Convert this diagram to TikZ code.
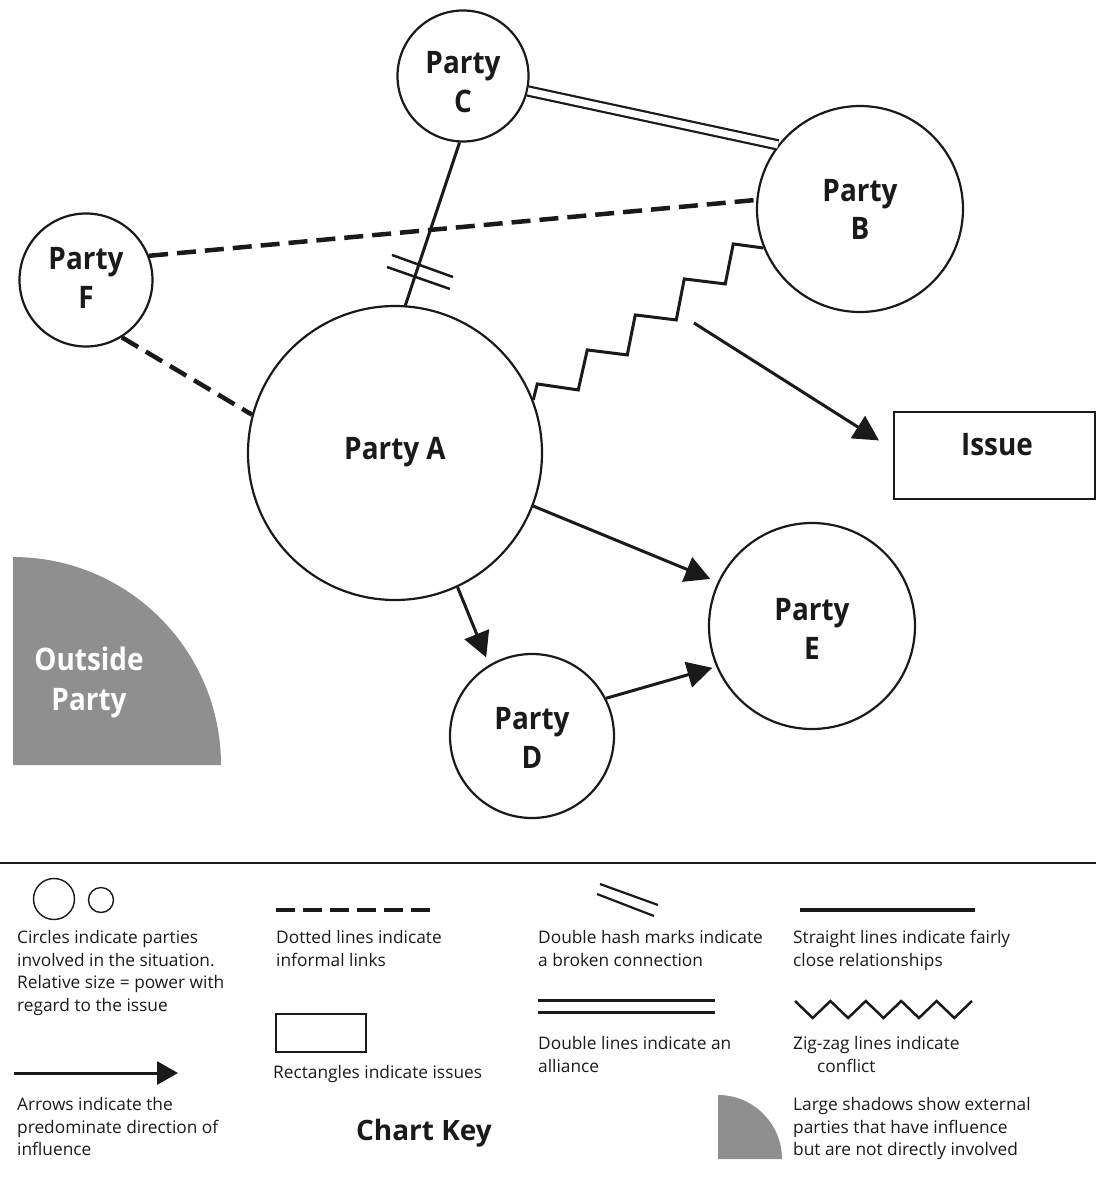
\documentclass[tikz,border=0pt]{standalone}
\usepackage{fontspec}
\setmainfont{Open Sans}
\newfontfamily\labelfont{Open Sans}[FakeStretch=0.9]
\usetikzlibrary{arrows.meta,calc}
\definecolor{shadowgray}{HTML}{8F8F8F}
\definecolor{ink}{HTML}{1A1A1A}
\begin{document}
\begin{tikzpicture}[x=1pt,y=-1pt, line cap=butt,
  party/.style={circle, draw=ink, line width=2.2pt, minimum size=#1, inner sep=0pt},
  partylabel/.style={align=center, inner sep=0pt, text=ink, font=\labelfont\fontsize{31}{38.5}\selectfont\bfseries},
  conn/.style={draw=ink, line width=3pt},
  dashconn/.style={draw=ink, line width=4.5pt, dash pattern=on 19pt off 9pt},
  alliance/.style={draw=ink, line width=2.2pt, double=white, double distance=7pt},
  arr/.style={draw=ink, line width=3pt, -{Triangle[length=25pt,width=26pt]}},
  keytext/.style={anchor=north west, align=left, inner sep=0pt, text=ink,
    font=\fontsize{17.3}{22.5}\selectfont},
]
\useasboundingbox (0,0) rectangle (1096,1181);

% ---------- outside party ----------
\fill[shadowgray] (13,765) -- (13,557) arc[start angle=90, end angle=0, radius=208pt] -- cycle;
\node[align=center, text=white, font=\labelfont\fontsize{31}{40}\selectfont\bfseries] (outside) at (89,682) {Outside\\Party};

% ---------- parties ----------
\node[party=131pt] (C) at (463,76) {};
\node[partylabel] (Ct) at ($(C.center)+(0,6)$) {Party\\C};
\node[party=206pt] (B) at (860,209) {};
\node[partylabel] (Bt) at ($(B.center)+(0,0.5)$) {Party\\B};
\node[party=133pt] (F) at (86,280) {};
\node[partylabel] (Ft) at ($(F.center)+(0,-2)$) {Party\\F};
\node[party=294pt] (A) at (395,453) {};
\node[partylabel] (At) at ($(A.center)+(0,-1)$) {Party A};
\node[party=206pt] (E) at (812,626) {};
\node[partylabel] (Et) at ($(E.center)+(0,3)$) {Party\\E};
\node[party=164pt] (D) at (532,736) {};
\node[partylabel] (Dt) at ($(D.center)+(0,2)$) {Party\\D};

% issue
\node[draw=ink, line width=2pt, minimum width=201pt, minimum height=87pt, inner sep=0pt] (I) at (994,455) {};
\node[partylabel] (Ilabel) at ($(I.center)+(3,-10)$) {Issue};

% ---------- connectors ----------
\draw[alliance] (C.347) -- (B.142);
\draw[conn] (C.267) -- (A.86);
\draw[ink, line width=2.5pt] (392,255) -- (453,277);
\draw[ink, line width=2.5pt] (387,267) -- (450,289);
\draw[dashconn] (F.21) -- (B.175);
\draw[dashconn] (F.302) -- (A.165);
\draw[conn, line join=miter] (A.21) -- ++(4,-16) -- ++(41,6) -- ++(9,-40) -- ++(40,5)
  -- ++(8,-40) -- ++(41,5) -- ++(8,-41) -- ++(41,5) -- ++(8,-40) -- (B.202);

\coordinate (X) at (694,323);
\draw[arr, shorten >=16pt] (X) -- ([yshift=6pt]I.west);
\draw[arr, shorten >=8pt] (A.339) -- (E.155);
\draw[arr, shorten >=8pt] (A.295) -- (D.121);
\draw[arr, shorten >=4pt] (D.27.5) -- (E.203);

% ---------- key ----------
\draw[ink, line width=1.5pt] (0,863) -- (1096,863);

\node[circle, draw=ink, line width=1.4pt, minimum size=41pt, inner sep=0pt] (k1) at (54,899) {};
\node[circle, draw=ink, line width=1.4pt, minimum size=25pt, inner sep=0pt] (k2) at (101,900) {};
\node[keytext] (t1) at (17,930.5) {Circles indicate parties\\involved in the situation.\\Relative size = power with\\regard to the issue};

\coordinate (ka1) at (14,1073);
\coordinate (ka2) at (178,1073);
\draw[ink, line width=3pt, -{Triangle[length=21pt,width=23pt]}] (ka1) -- (ka2);
\node[keytext] (t2) at (17,1097.5) {Arrows indicate the\\predominate direction of\\influence};

\coordinate (kd1) at (276,910);
\coordinate (kd2) at (431,910);
\draw[ink, line width=4pt, dash pattern=on 19pt off 8pt] (kd1) -- (kd2);
\node[keytext] (t3) at (276,930.5) {Dotted lines indicate\\informal links};

\node[draw=ink, line width=1.4pt, minimum width=90pt, minimum height=38pt, inner sep=0pt] (kr) at (321,1033) {};
\node[keytext] (t4) at (273,1065.5) {Rectangles indicate issues};

\node[text=ink, font=\fontsize{28}{34}\selectfont\bfseries] (key) at (424,1133) {Chart Key};

\draw[ink, line width=2.2pt] (600,884) -- (658,905);
\draw[ink, line width=2.2pt] (597,894) -- (654,916);
\node[keytext] (t5) at (538,930.5) {Double hash marks indicate\\a broken connection};

\coordinate (kdl1) at (538,1006);
\coordinate (kdl2) at (715,1006);
\draw[ink, line width=3pt, double=white, double distance=9pt] (kdl1) -- (kdl2);
\node[keytext] (t6) at (538,1036.5) {Double lines indicate an\\alliance};

\coordinate (ks1) at (800,910);
\coordinate (ks2) at (975,910);
\draw[ink, line width=4.5pt] (ks1) -- (ks2);
\node[keytext] (t7) at (793,930.5) {Straight lines indicate fairly\\close relationships};

\draw[ink, line width=2.5pt, line join=miter] (795,1001) -- ++(17.7,17) -- ++(17.7,-17) -- ++(17.7,17) -- ++(17.7,-17)
  -- ++(17.7,17) -- ++(17.7,-17) -- ++(17.7,17) -- ++(17.7,-17) -- ++(17.7,17) -- ++(17.7,-17);
\node[keytext] (t8) at (793,1036.5) {Zig-zag lines indicate\\\hspace*{24pt}conflict};

\fill[shadowgray] (718,1159) -- (718,1095) arc[start angle=90, end angle=0, radius=64pt] -- cycle;
\node[keytext] (t9) at (793,1097.5) {Large shadows show external\\parties that have influence\\but are not directly involved};
\end{tikzpicture}
\end{document}
